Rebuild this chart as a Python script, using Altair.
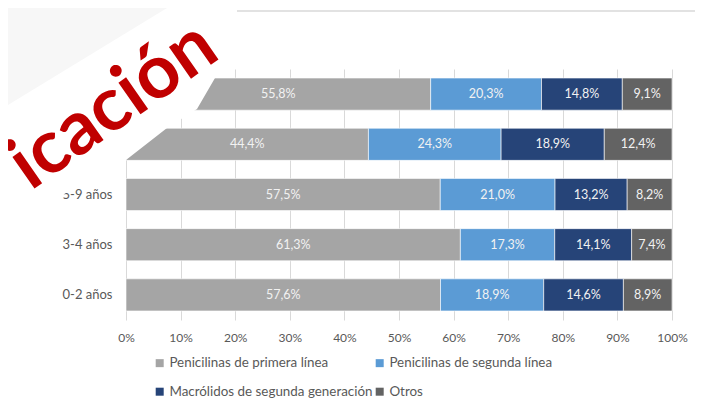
import altair as alt
import pandas as pd

categories = ["15-19 años", "10-14 años", "5-9 años", "3-4 años", "0-2 años"]
series = [
    "Penicilinas de primera línea",
    "Penicilinas de segunda línea",
    "Macrólidos de segunda generación",
    "Otros",
]
primera = [55.8, 44.4, 57.5, 61.3, 57.6]
segunda = [20.3, 24.3, 21.0, 17.3, 18.9]
macrolidos = [14.8, 18.9, 13.2, 14.1, 14.6]
otros = [9.1, 12.4, 8.2, 7.4, 8.9]
colors = ["#a5a5a5", "#5b9bd5", "#264478", "#636363"]
x_ticks = [0, 0.1, 0.2, 0.3, 0.4, 0.5, 0.6, 0.7, 0.8, 0.9, 1.0]
overlay_word = "icación"

# decorative overlay shapes (pixel paths relative to the plot origin)
white_band_path = ("M87,-89 L204,-89 L89,9 L71,40 L41,59 L0,91 L-60,124 "
                   "L-146,176 L-146,53 Z")
grey_corner_path = "M-146,-89 L87,-89 L-146,53 Z"

rows = []
for si, (s, vals) in enumerate(zip(series, [primera, segunda, macrolidos, otros])):
    for c, v in zip(categories, vals):
        rows.append({
            "cat": c,
            "serie": s,
            "orden": si,
            "valor": v,
            "etiqueta": f"{v:.1f}%".replace(".", ","),
        })
df = pd.DataFrame(rows)

base = alt.Chart(df).transform_stack(
    stack="valor",
    groupby=["cat"],
    sort=[alt.SortField("orden")],
    as_=["x0", "x1"],
    offset="normalize",
).transform_calculate(mid="(datum.x0 + datum.x1) / 2")

y_enc = alt.Y(
    "cat:N",
    sort=categories,
    title=None,
    scale=alt.Scale(paddingInner=0.36, paddingOuter=0.18),
    axis=alt.Axis(
        domain=False, ticks=False, grid=False, labelPadding=14,
        labelFont="Lato", labelFontSize=13, labelColor="#595959",
    ),
)

bars = base.mark_bar(stroke="white", strokeWidth=0.6).encode(
    x=alt.X(
        "x0:Q",
        title=None,
        scale=alt.Scale(domain=[0, 1]),
        axis=alt.Axis(
            format=".0%", values=x_ticks, grid=True, gridColor="#d9d9d9",
            gridWidth=1, domain=False, ticks=False, labelPadding=12,
            labelFlush=False,
            labelFont="Lato", labelFontSize=12, labelColor="#595959",
        ),
    ),
    x2="x1:Q",
    y=y_enc,
    color=alt.Color(
        "serie:N",
        scale=alt.Scale(domain=series, range=colors),
        legend=alt.Legend(
            title=None, orient="none", legendX=27, legendY=287,
            direction="horizontal", columns=2, gridAlign="each",
            symbolType="square", symbolSize=64, symbolStrokeWidth=0,
            labelFont="Lato", labelFontSize=13.4, labelColor="#595959",
            labelOffset=3, columnPadding=0, rowPadding=14, labelLimit=400,
            padding=0,
        ),
    ),
)

labels = base.mark_text(color="#f2f2f2", font="Lato", fontSize=12.5).encode(
    x="mid:Q",
    y=y_enc,
    text="etiqueta:N",
)

deco = alt.Chart(alt.Data(values=[{"k": 0}]))

white_band = deco.mark_point(
    shape=white_band_path, filled=True, fill="white", opacity=1,
    strokeWidth=0, size=4,
).encode(x=alt.value(0), y=alt.value(0))

grey_corner = deco.mark_point(
    shape=grey_corner_path, filled=True, fill="#f7f7f7", opacity=1,
    strokeWidth=0, size=4,
).encode(x=alt.value(0), y=alt.value(0))

top_rule = deco.mark_rule(color="#d9d9d9", strokeWidth=1.5).encode(
    x=alt.value(111), x2=alt.value(577), y=alt.value(-58)
)

red_text = deco.mark_text(
    text=overlay_word, font="Lato", fontWeight="bold", fontSize=75,
    color="#c00000", align="right", baseline="alphabetic", angle=325,
).encode(x=alt.value(96), y=alt.value(-12))

chart = alt.layer(
    bars, labels, white_band, grey_corner, top_rule, red_text
).properties(
    width=546,
    height=251,
    autosize=alt.AutoSizeParams(type="none"),
    padding={"left": 118, "top": 61, "right": 23, "bottom": 80},
).configure_view(stroke=None)

chart.save("out.html", embed_options={"renderer": "svg", "actions": False})
